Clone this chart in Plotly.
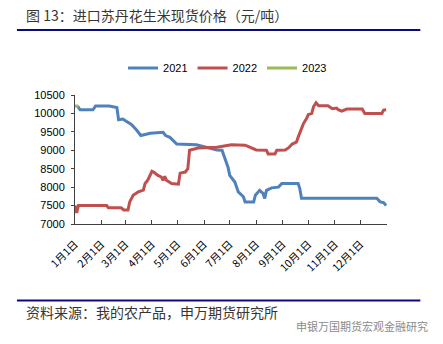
import plotly.graph_objects as go

# ---------------- data (month-day, value) ----------------
months = ["1月1日", "2月1日", "3月1日", "4月1日", "5月1日", "6月1日",
          "7月1日", "8月1日", "9月1日", "10月1日", "11月1日", "12月1日"]

d2021 = ["01-04", "01-07", "01-22", "01-25", "02-10", "02-19", "02-21", "02-26", "03-01",
         "03-08", "03-14", "03-19", "03-30", "04-14", "04-17", "04-22", "04-26", "04-30",
         "05-23", "05-31", "06-04", "06-16", "06-22", "06-26", "06-29", "07-01", "07-07",
         "07-11", "07-17", "07-19", "07-29", "07-31", "08-05", "08-09", "08-11", "08-13",
         "08-19", "08-27", "08-31", "09-19", "09-21", "09-23", "12-20", "12-24", "12-28",
         "12-31"]
v2021 = [10200, 10100, 10100, 10200, 10200, 10160, 9830, 9850, 9800,
         9700, 9550, 9400, 9460, 9490, 9400, 9350, 9260, 9170,
         9150, 9100, 9080, 9010, 9000, 8700, 8540, 8320, 8140,
         7870, 7740, 7600, 7600, 7780, 7915, 7830, 7690, 7915,
         7980, 8000, 8100, 8100, 7960, 7700, 7700, 7600, 7580,
         7500]

d2022 = ["01-01", "01-03", "01-05", "02-07", "02-09", "02-24", "02-27", "03-04", "03-06",
         "03-10", "03-16", "03-22", "03-24", "03-27", "04-01", "04-03", "04-08", "04-12",
         "04-14", "04-16", "04-18", "04-24", "05-02", "05-04", "05-10", "05-13", "05-15",
         "05-21", "05-25", "06-16", "07-03", "07-19", "07-25", "08-01", "08-13", "08-15",
         "08-23", "08-25", "09-04", "09-08", "09-12", "09-17", "09-19", "09-21", "09-25",
         "09-29", "10-01", "10-05", "10-07", "10-10", "10-13", "10-24", "10-29", "11-03",
         "11-05", "11-09", "11-15", "12-03", "12-06", "12-26", "12-28", "12-31"]
v2022 = [7500, 7300, 7500, 7500, 7440, 7440, 7380, 7380, 7600,
         7780, 7870, 7920, 8100, 8185, 8430, 8410, 8320, 8275,
         8185, 8290, 8185, 8100, 8080, 8380, 8410, 8500, 9000,
         9040, 9060, 9080, 9150, 9140, 9080, 9010, 9000, 8900,
         8900, 9000, 9010, 9070, 9170, 9220, 9350, 9490, 9710,
         9870, 9970, 10000, 10180, 10290, 10210, 10210, 10130, 10145,
         10100, 10060, 10120, 10120, 10000, 10000, 10090, 10100]

d2023 = ["01-01", "01-05"]
v2023 = [10200, 10200]

yticks = [7000, 7500, 8000, 8500, 9000, 9500, 10000, 10500]
yticktext = ["7000", "7500", "8000", "8500", "9000", "9500", "10000", "10500"]

BASE = "2021-"
def dates(md):
    return [BASE + m for m in md]

# ---------------- layout helpers (pixel -> paper) ----------------
W, H = 443, 344
L, R, T, B = 75, 386.7, 95, 224
def px(x):
    return (x - L) / (R - L)
def py(y):
    return (B - y) / (B - T)

fig = go.Figure()
fig.add_trace(go.Scatter(x=dates(d2021), y=v2021, name="2021", mode="lines",
                         line=dict(color="#4F81BD", width=3)))
fig.add_trace(go.Scatter(x=dates(d2022), y=v2022, name="2022", mode="lines",
                         line=dict(color="#C0504D", width=3)))
fig.add_trace(go.Scatter(x=dates(d2023), y=v2023, name="2023", mode="lines",
                         line=dict(color="#9BBB59", width=3)))

tickvals = [f"2021-{m:02d}-01" for m in range(1, 13)] + ["2022-01-01"]
ticktext = months + [""]

fig.update_layout(
    width=W, height=H,
    margin=dict(l=L, r=W - R, t=T, b=H - B),
    paper_bgcolor="white", plot_bgcolor="white",
    font=dict(family="Liberation Sans, Noto Sans CJK SC", size=11, color="black"),
    showlegend=True,
    legend=dict(orientation="h", x=px(123), y=py(68), xanchor="left", yanchor="middle",
                font=dict(family="Liberation Sans", size=11, color="black"),
                bgcolor="rgba(0,0,0,0)", itemwidth=30, tracegroupgap=0),
    xaxis=dict(type="date", range=["2021-01-01", "2022-01-01"],
               tickmode="array", tickvals=tickvals, ticktext=ticktext,
               tickangle=-45, ticks="inside", ticklen=4, tickcolor="#404040",
               ticklabelstandoff=9,
               showline=True, linecolor="#404040", linewidth=1,
               showgrid=False, zeroline=False,
               tickfont=dict(family="Noto Sans CJK SC", size=10.5, color="black")),
    yaxis=dict(range=[7000, 10500], tickmode="array", tickvals=yticks, ticktext=yticktext,
               ticks="outside", ticklen=3, tickcolor="#404040",
               ticklabelstandoff=4,
               showline=True, linecolor="#404040", linewidth=1,
               showgrid=False, zeroline=False,
               tickfont=dict(family="Liberation Sans", size=11, color="black")),
)

# title and footer lines
fig.add_shape(type="line", xref="paper", yref="paper",
              x0=px(17), x1=px(420), y0=py(30), y1=py(30),
              line=dict(color="#0A0A80", width=2))
fig.add_shape(type="line", xref="paper", yref="paper",
              x0=px(17), x1=px(420), y0=py(300.5), y1=py(300.5),
              line=dict(color="#0A0A80", width=2))

fig.add_annotation(text="图 13：进口苏丹花生米现货价格（元/吨）", xref="paper", yref="paper",
                   x=px(24), y=py(15), xanchor="left", yanchor="middle", showarrow=False,
                   font=dict(family="Noto Sans CJK SC", size=14, color="#3A3530"))
fig.add_annotation(text="资料来源：我的农产品，申万期货研究所", xref="paper", yref="paper",
                   x=px(24), y=py(312), xanchor="left", yanchor="middle", showarrow=False,
                   font=dict(family="Noto Sans CJK SC", size=14, color="#3A3530"))
fig.add_annotation(text="申银万国期货宏观金融研究", xref="paper", yref="paper",
                   x=px(430), y=py(326), xanchor="right", yanchor="middle", showarrow=False,
                   font=dict(family="Noto Sans CJK SC", size=11, color="#8A8A8A"))

fig.write_html("out.html")
